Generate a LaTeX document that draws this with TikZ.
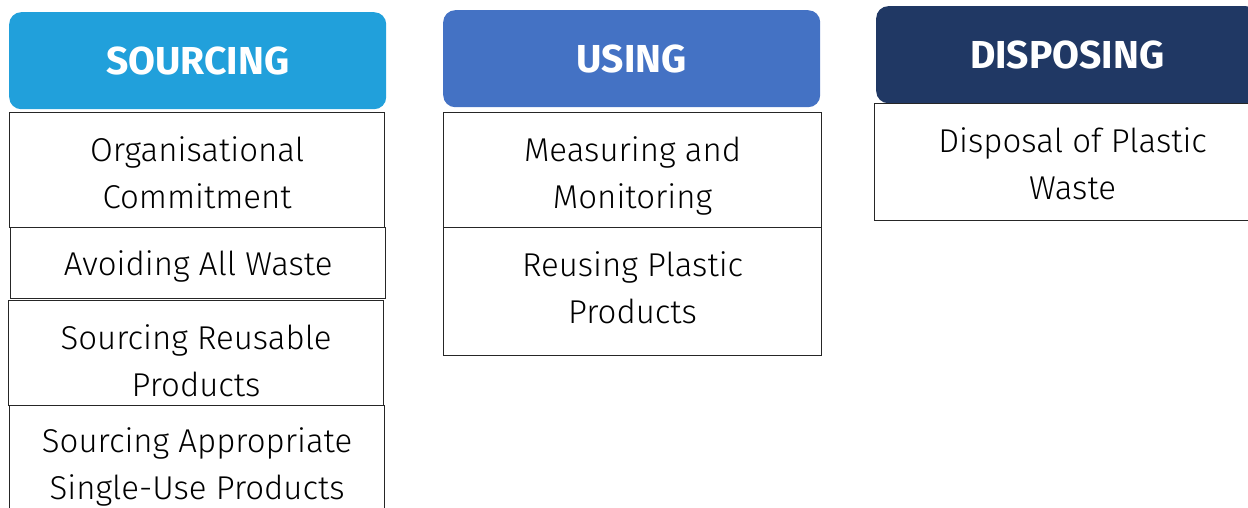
\documentclass[tikz,border=0pt]{standalone}
\usepackage{fontspec}
\setmainfont{Fira Sans Light}[BoldFont=Fira Sans Bold]
\definecolor{SourceClr}{HTML}{21A0DB}
\definecolor{UseClr}{HTML}{4472C4}
\definecolor{DisposeClr}{HTML}{203864}
\tikzset{
  head/.style={rounded corners=12pt,inner sep=0pt,minimum width=377pt,minimum height=97pt,
    anchor=north west,text=white,font=\fontsize{39}{47}\selectfont\bfseries},
  item/.style={draw=black!85,line width=1.2pt,inner sep=0pt,minimum width=375pt,anchor=north west},
  itemtext/.style={inner sep=0pt,align=center,font=\fontsize{33}{47}\selectfont}
}

\begin{document}
\begin{tikzpicture}[x=1pt,y=-1pt]
\useasboundingbox (0,0) rectangle (1248,508);
\clip (0,0) rectangle (1248,508);

\node[head,fill=SourceClr] (sourcing) at (9,12) {SOURCING};
\node[head,fill=UseClr] (using) at (443,10) {USING};
\node[head,fill=DisposeClr,minimum width=382pt] (disposing) at (876,6) {DISPOSING};

\node[item,minimum height=115pt] (commit) at (9,112) {};
\node[item,minimum height=71pt] (avoid) at (10,227) {};
\node[item,minimum height=105pt] (reusable) at (8,300) {};
\node[item,minimum height=118pt] (single) at (9,405) {};
\node[item,minimum width=378pt,minimum height=115pt] (measure) at (443,112) {};
\node[item,minimum width=378pt,minimum height=128pt] (reuse) at (443,227) {};
\node[item,minimum width=396pt,minimum height=117pt] (disposal) at (874,103) {};

\node[itemtext,yshift=-3pt] (commit-txt) at (commit.center) {Organisational\\Commitment};
\node[itemtext,yshift=-3pt] (avoid-txt) at (avoid.center) {Avoiding All Waste};
\node[itemtext,yshift=-8pt] (reusable-txt) at (reusable.center) {Sourcing Reusable\\Products};
\node[itemtext,yshift=-2pt] (single-txt) at (single.center) {Sourcing Appropriate\\Single-Use Products};
\node[itemtext,yshift=-6pt] (measure-txt) at (measure.center) {Measuring and\\Monitoring};
\node[itemtext,yshift=4pt] (reuse-txt) at (reuse.center) {Reusing Plastic\\Products};
\node[itemtext,yshift=-2pt] (disposal-txt) at (disposal.center) {Disposal of Plastic\\Waste};
\end{tikzpicture}
\end{document}
